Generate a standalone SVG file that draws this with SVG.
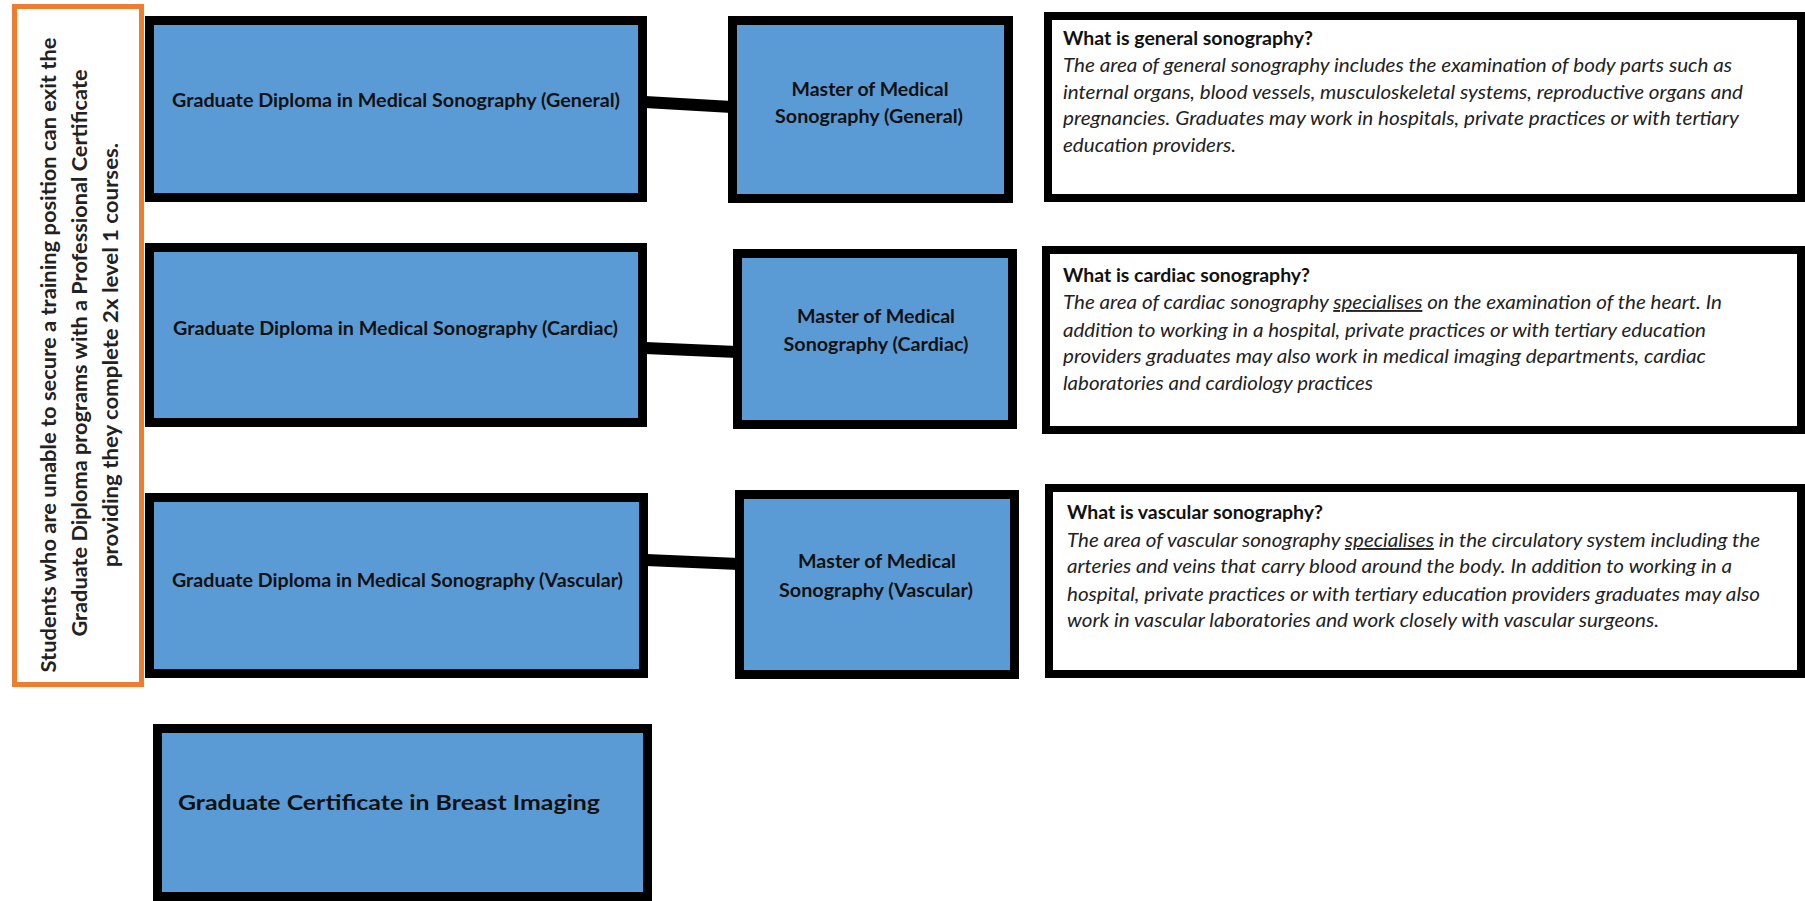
<svg xmlns="http://www.w3.org/2000/svg" width="1805" height="901" viewBox="0 0 1805 901">
<style>
.box{fill:#5B9BD5;stroke:#000;stroke-width:9}
.info{fill:#fff;stroke:#000;stroke-width:8}
.side{fill:#fff;stroke:#ED7D31;stroke-width:5}
.lbl{font-family:Lato,"Liberation Sans",sans-serif;font-weight:bold;font-size:18.5px;fill:#111;text-anchor:middle}
.big{font-family:Lato,"Liberation Sans",sans-serif;font-weight:bold;font-size:21.5px;fill:#111}
.ttl{font-family:Lato,"Liberation Sans",sans-serif;font-weight:bold;font-size:18.5px;fill:#111}
.body{font-family:Lato,"Liberation Sans",sans-serif;font-style:italic;font-size:19px;fill:#222}
.vt{font-family:Lato,"Liberation Sans",sans-serif;font-weight:bold;font-size:20px;fill:#222;text-anchor:middle}
.conn{stroke:#000;stroke-width:12;fill:none}
</style>
<rect width="1805" height="901" fill="#fff"/>
<g id="connectors">
<line class="conn" x1="645" y1="102" x2="732" y2="107"/>
<line class="conn" x1="645" y1="348" x2="737" y2="352"/>
<line class="conn" x1="646" y1="560" x2="739" y2="564"/>
</g>
<g id="side-note">
<rect class="side" x="14.5" y="6.5" width="127" height="678"/>
<text class="vt" transform="translate(56,355) rotate(-90)" textLength="635" lengthAdjust="spacingAndGlyphs">Students who are unable to secure a training position can exit the</text>
<text class="vt" transform="translate(87,353) rotate(-90)" textLength="567" lengthAdjust="spacingAndGlyphs">Graduate Diploma programs with a Professional Certificate</text>
<text class="vt" transform="translate(118,355) rotate(-90)" textLength="424" lengthAdjust="spacingAndGlyphs">providing they complete 2x level 1 courses.</text>
</g>
<g id="gd-general">
<rect class="box" x="149.5" y="20.5" width="493" height="177"/>
<text class="lbl" x="396" y="107" textLength="448" lengthAdjust="spacingAndGlyphs">Graduate Diploma in Medical Sonography (General)</text>
</g>
<g id="gd-cardiac">
<rect class="box" x="149.5" y="247.5" width="493" height="175"/>
<text class="lbl" x="395.5" y="335" textLength="445" lengthAdjust="spacingAndGlyphs">Graduate Diploma in Medical Sonography (Cardiac)</text>
</g>
<g id="gd-vascular">
<rect class="box" x="149.5" y="497.5" width="494" height="176"/>
<text class="lbl" x="397.5" y="587" textLength="451" lengthAdjust="spacingAndGlyphs">Graduate Diploma in Medical Sonography (Vascular)</text>
</g>
<g id="gc-breast">
<rect class="box" x="157.5" y="728.5" width="490" height="168"/>
<text class="big" x="178" y="810" textLength="422" lengthAdjust="spacingAndGlyphs">Graduate Certificate in Breast Imaging</text>
</g>
<g id="m-general">
<rect class="box" x="732.5" y="20.5" width="276" height="178"/>
<text class="lbl" x="870" y="96" textLength="157" lengthAdjust="spacingAndGlyphs">Master of Medical</text>
<text class="lbl" x="869" y="123" textLength="188" lengthAdjust="spacingAndGlyphs">Sonography (General)</text>
</g>
<g id="m-cardiac">
<rect class="box" x="737.5" y="253.5" width="275" height="171"/>
<text class="lbl" x="876" y="323" textLength="158" lengthAdjust="spacingAndGlyphs">Master of Medical</text>
<text class="lbl" x="876" y="351" textLength="185" lengthAdjust="spacingAndGlyphs">Sonography (Cardiac)</text>
</g>
<g id="m-vascular">
<rect class="box" x="739.5" y="494.5" width="275" height="180"/>
<text class="lbl" x="877" y="568" textLength="158" lengthAdjust="spacingAndGlyphs">Master of Medical</text>
<text class="lbl" x="876" y="597" textLength="194" lengthAdjust="spacingAndGlyphs">Sonography (Vascular)</text>
</g>
<g id="info-general">
<rect class="info" x="1048" y="16" width="753" height="182"/>
<text class="ttl" x="1063" y="45" textLength="250" lengthAdjust="spacingAndGlyphs">What is general sonography?</text>
<text class="body" x="1063" y="72" textLength="669" lengthAdjust="spacingAndGlyphs">The area of general sonography includes the examination of body parts such as</text>
<text class="body" x="1063" y="99" textLength="680" lengthAdjust="spacingAndGlyphs">internal organs, blood vessels, musculoskeletal systems, reproductive organs and</text>
<text class="body" x="1063" y="125" textLength="676" lengthAdjust="spacingAndGlyphs">pregnancies. Graduates may work in hospitals, private practices or with tertiary</text>
<text class="body" x="1063" y="152" textLength="173" lengthAdjust="spacingAndGlyphs">education providers.</text>
</g>
<g id="info-cardiac">
<rect class="info" x="1046" y="250" width="755" height="180"/>
<text class="ttl" x="1063" y="282" textLength="247" lengthAdjust="spacingAndGlyphs">What is cardiac sonography?</text>
<text class="body" x="1063" y="309" textLength="659" lengthAdjust="spacingAndGlyphs">The area of cardiac sonography <tspan text-decoration="underline">specialises</tspan> on the examination of the heart. In</text>
<text class="body" x="1063" y="337" textLength="643" lengthAdjust="spacingAndGlyphs">addition to working in a hospital, private practices or with tertiary education</text>
<text class="body" x="1063" y="363" textLength="643" lengthAdjust="spacingAndGlyphs">providers graduates may also work in medical imaging departments, cardiac</text>
<text class="body" x="1063" y="390" textLength="310" lengthAdjust="spacingAndGlyphs">laboratories and cardiology practices</text>
</g>
<g id="info-vascular">
<rect class="info" x="1049" y="488" width="752" height="186"/>
<text class="ttl" x="1067" y="519" textLength="256" lengthAdjust="spacingAndGlyphs">What is vascular sonography?</text>
<text class="body" x="1067" y="547" textLength="693" lengthAdjust="spacingAndGlyphs">The area of vascular sonography <tspan text-decoration="underline">specialises</tspan> in the circulatory system including the</text>
<text class="body" x="1067" y="573" textLength="665" lengthAdjust="spacingAndGlyphs">arteries and veins that carry blood around the body. In addition to working in a</text>
<text class="body" x="1067" y="601" textLength="693" lengthAdjust="spacingAndGlyphs">hospital, private practices or with tertiary education providers graduates may also</text>
<text class="body" x="1067" y="627" textLength="592" lengthAdjust="spacingAndGlyphs">work in vascular laboratories and work closely with vascular surgeons.</text>
</g>
</svg>
